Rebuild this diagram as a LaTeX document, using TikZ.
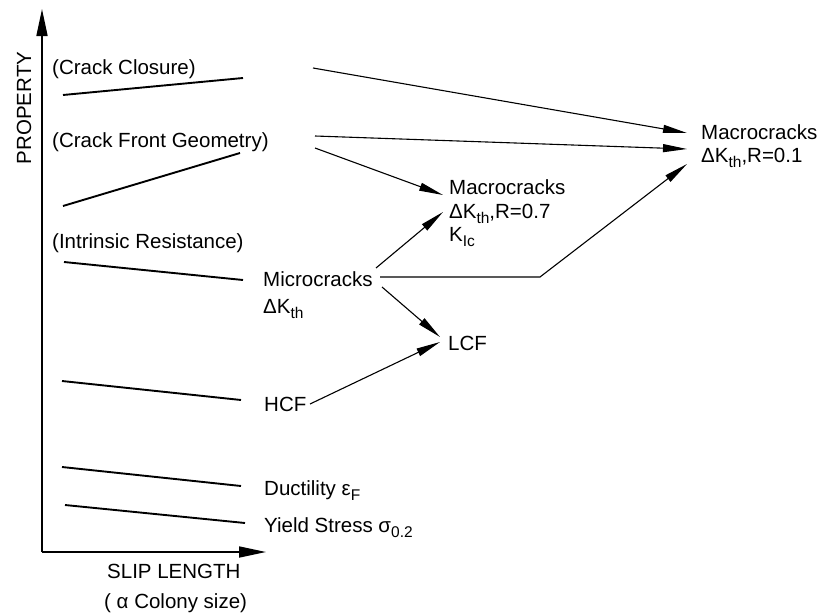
\documentclass[tikz,border=0pt]{standalone}
\usepackage{fontspec}
\setmainfont{Liberation Sans}
\usetikzlibrary{arrows.meta}
\newcommand\lsub[1]{\raisebox{-0.5ex}{\fontsize{15.5}{15.5}\selectfont #1}}
\begin{document}
\begin{tikzpicture}[x=1pt,y=-1pt,
  lbl/.style={anchor=base west,inner sep=0pt,font=\fontsize{20.5}{24}\selectfont},
  prop/.style={line width=1.9pt},
  axis/.style={line width=1.7pt,-{Triangle[length=27pt,width=11pt]}},
  arr/.style={line width=1.1pt,-{Triangle[length=24pt,width=8pt]}}]
\useasboundingbox (0,0) rectangle (819,613);
% axes
\coordinate (O) at (42,552);
\coordinate (ytop) at (42,9);
\coordinate (xend) at (266,552);
\draw[axis] (O) -- (ytop);
\draw[axis] (O) -- (xend);
\node[lbl,anchor=base,rotate=90] (propl) at (31,108) {PROPERTY};
\node[lbl] (slip) at (107,578) {SLIP LENGTH};
\node[lbl] (colony) at (104,608) {( α Colony size)};
% property lines
\draw[prop] (63,95) -- (243,78);
\draw[prop] (63,206) -- (240,153);
\draw[prop] (64,262) -- (243,280);
\draw[prop] (62,381) -- (241,400);
\draw[prop] (62,467) -- (241,486);
\draw[prop] (65,505) -- (245,523);
% labels
\node[lbl] (cc) at (52,74) {(Crack Closure)};
\node[lbl] (cfg) at (52,147) {(Crack Front Geometry)};
\node[lbl] (ir) at (52,248) {(Intrinsic Resistance)};
\node[lbl] (micro) at (263,286) {Microcracks};
\node[lbl] (microdk) at (263,313) {ΔK\lsub{th}};
\node[lbl] (hcf) at (264,411) {HCF};
\node[lbl] (duct) at (264,495) {Ductility ε\lsub{F}};
\node[lbl] (yield) at (264,532) {Yield Stress σ\lsub{0.2}};
\node[lbl] (macB) at (449,194) {Macrocracks};
\node[lbl] (macBdk) at (449,218) {ΔK\lsub{th},R=0.7};
\node[lbl] (macBk) at (449,241) {K\lsub{Ic}};
\node[lbl] (macA) at (701,139) {Macrocracks};
\node[lbl] (macAdk) at (701,162) {ΔK\lsub{th},R=0.1};
\node[lbl] (lcf) at (448,350) {LCF};
% arrow end points
\coordinate (s1) at (313,68);
\coordinate (t1) at (687,133);
\coordinate (s2) at (315,136);
\coordinate (t2) at (687,149);
\coordinate (s3) at (315,148);
\coordinate (t3) at (443,195);
\coordinate (s4) at (376,268);
\coordinate (t4) at (443,212);
\coordinate (s5) at (380,277);
\coordinate (k5) at (540,277);
\coordinate (t5) at (687,164);
\coordinate (s6) at (382,287);
\coordinate (t6) at (440,337);
\coordinate (s7) at (310,404);
\coordinate (t7) at (440,342);
\draw[arr] (s1) -- (t1);
\draw[arr] (s2) -- (t2);
\draw[arr] (s3) -- (t3);
\draw[arr] (s4) -- (t4);
\draw[arr] (s5) -- (k5) -- (t5);
\draw[arr] (s6) -- (t6);
\draw[arr] (s7) -- (t7);
\end{tikzpicture}
\end{document}
